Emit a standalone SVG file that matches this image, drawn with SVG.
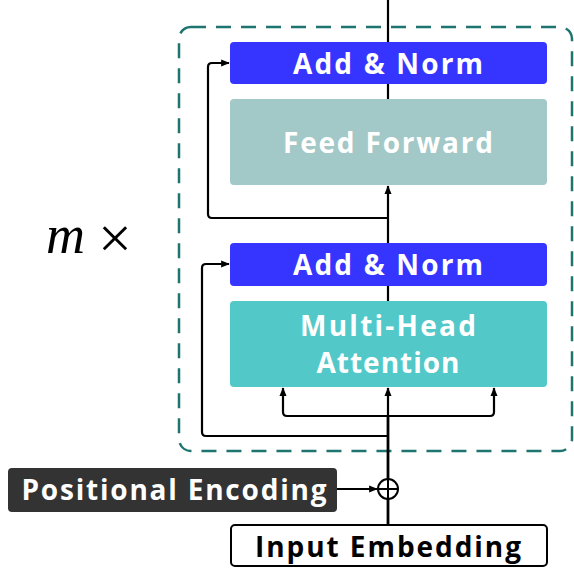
<svg xmlns="http://www.w3.org/2000/svg" width="574" height="569" viewBox="0 0 574 569">
<defs>
<marker id="ah" viewBox="0 0 10 8" refX="9" refY="4" markerWidth="9" markerHeight="7" markerUnits="userSpaceOnUse" orient="auto" overflow="visible">
<path d="M0,0 L10,4 L0,8 Z" fill="#000"/>
</marker>
<style>
.lbl{font-family:"Open Sans","DejaVu Sans",sans-serif;font-weight:700;text-anchor:middle;fill:#fff;font-size:28px}
.c{fill:none;stroke:#000;stroke-width:2.2;stroke-linejoin:round}
.ca{fill:none;stroke:#000;stroke-width:2.2;stroke-linejoin:round;marker-end:url(#ah)}
</style>
</defs>
<rect width="574" height="569" fill="#fff"/>
<g id="block">
<rect x="179" y="27" width="393" height="424" rx="12" fill="none" stroke="#1E7570" stroke-width="2.5" stroke-dasharray="15 10"/>
</g>
<g id="connectors">
<path class="c" d="M388,0 V42"/>
<path class="c" d="M388,84 V99"/>
<path class="ca" d="M388,243 V186"/>
<path class="c" d="M388,286 V301"/>
<path class="ca" d="M388,218 H212 Q208,218 208,214 V67 Q208,63 212,63 H229"/>
<path class="ca" d="M388,436 H206 Q202,436 202,432 V268 Q202,264 206,264 H229"/>
<path class="ca" d="M388,416 H287 Q283,416 283,412 V388"/>
<path class="ca" d="M388,416 H490 Q494,416 494,412 V388"/>
<path class="ca" d="M388,416 V388"/>
<path d="M388,525 V416" fill="none" stroke="#000" stroke-width="2.8"/>
<path class="ca" d="M337,489 H377"/>
</g>
<g id="add-norm-1">
<rect x="230" y="42" width="317" height="42" rx="4" fill="#3535FF"/>
<text class="lbl" x="388" y="74" textLength="190" lengthAdjust="spacing">Add &amp; Norm</text>
</g>
<g id="feed-forward">
<rect x="230" y="99" width="317" height="86" rx="4" fill="#A2C8C8"/>
<text class="lbl" x="388" y="153" textLength="210" lengthAdjust="spacing">Feed Forward</text>
</g>
<g id="add-norm-2">
<rect x="230" y="243" width="317" height="43" rx="4" fill="#3535FF"/>
<text class="lbl" x="388" y="275" textLength="190" lengthAdjust="spacing">Add &amp; Norm</text>
</g>
<g id="multi-head-attention">
<rect x="230" y="301" width="317" height="86" rx="4" fill="#52C8C8"/>
<text class="lbl" x="388" y="336" textLength="176" lengthAdjust="spacing">Multi-Head</text>
<text class="lbl" x="388" y="373" textLength="143" lengthAdjust="spacing">Attention</text>
</g>
<g id="add">
<circle cx="388" cy="489" r="10" fill="#fff" stroke="#000" stroke-width="2"/>
<path d="M378,489 H398 M388,479 V499" stroke="#000" stroke-width="2"/>
</g>
<g id="positional-encoding">
<rect x="8" y="468" width="329" height="44" rx="4" fill="#333333"/>
<text class="lbl" x="174" y="500" textLength="305" lengthAdjust="spacing">Positional Encoding</text>
</g>
<g id="input-embedding">
<rect x="231" y="525" width="316" height="41" rx="4" fill="#fff" stroke="#000" stroke-width="2"/>
<text class="lbl" x="388" y="557" textLength="266" lengthAdjust="spacing" style="fill:#000">Input Embedding</text>
</g>
<g id="m-times">
<text x="46" y="253" font-family="Liberation Serif,serif" font-style="italic" font-size="54">m</text>
<text x="98" y="258" font-family="Liberation Serif,serif" font-size="60">×</text>
</g>
</svg>
